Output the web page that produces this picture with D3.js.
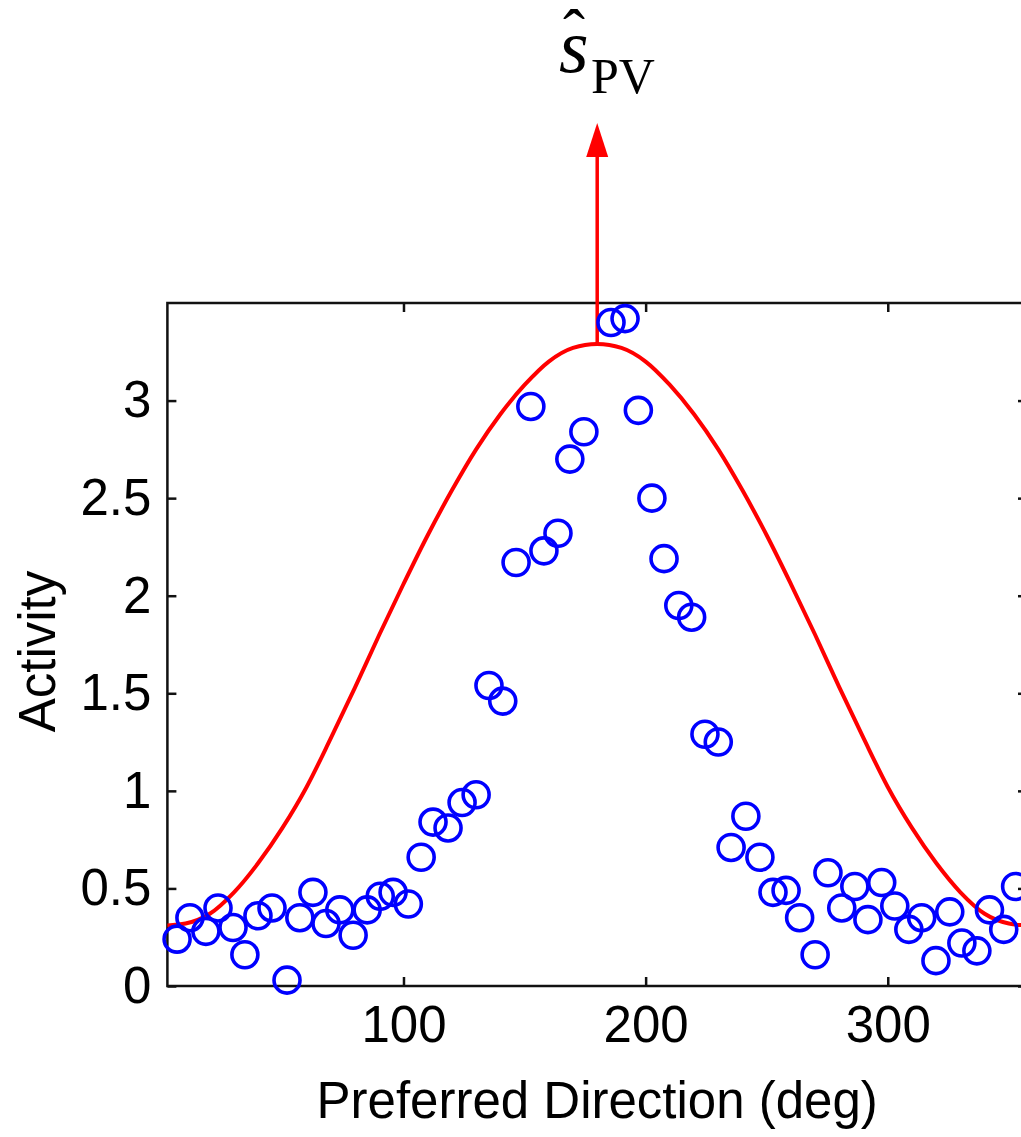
<!DOCTYPE html>
<html>
<head>
<meta charset="utf-8">
<script src="https://cdn.jsdelivr.net/npm/d3@7"></script>
<style>
  body { margin: 0; background: #fff; }
  svg text { fill: #000; }
</style>
</head>
<body>
<svg id="chart" width="1021" height="1137"></svg>
<script>
/* population vector read-out: neuron activity vs preferred direction */

// neurons: preferred direction (deg) and measured activity
const prefDirections = [6.5, 11.8, 18.4, 23.4, 29.6, 34.5, 39.9, 45.7, 51.9, 57.2,
    62.6, 68, 73.7, 79.2, 85, 90.4, 95.7, 102, 107.3, 112.2,
    118.4, 124.2, 130, 135.3, 141, 146.5, 152.6, 158, 163.8, 168.7,
    174.5, 185.7, 191.5, 197, 202.6, 207.6, 213.7, 219, 224.5, 230,
    235.3, 241.4, 247.2, 252.6, 258, 263.6, 270, 275.3, 281, 286.4,
    291.8, 297.5, 302.9, 308.7, 314, 319.9, 325.6, 330.6, 336.8, 342,
    347.9, 352.8];
const activity = [0.24, 0.35, 0.28, 0.40, 0.30, 0.16, 0.36, 0.40, 0.03, 0.35,
    0.48, 0.32, 0.39, 0.26, 0.39, 0.46, 0.48, 0.42, 0.66, 0.84,
    0.81, 0.94, 0.98, 1.54, 1.46, 2.17, 2.97, 2.23, 2.32, 2.70,
    2.84, 3.40, 3.42, 2.95, 2.50, 2.19, 1.95, 1.89, 1.29, 1.25,
    0.71, 0.87, 0.66, 0.48, 0.49, 0.35, 0.16, 0.58, 0.40, 0.51,
    0.34, 0.53, 0.41, 0.29, 0.35, 0.13, 0.38, 0.22, 0.18, 0.39,
    0.29, 0.51];

// fitted tuning curve (red)
const curveDirections = [2.5, 10, 20, 30, 40, 50, 60, 70, 80, 90,
    100, 110, 120, 130, 140, 150, 160, 170, 180, 190,
    200, 210, 220, 230, 240, 250, 260, 270, 280, 290,
    300, 310, 320, 330, 340, 350, 357.5];
const curveActivity = [0.31, 0.32, 0.37, 0.48, 0.63, 0.81, 1.02, 1.27, 1.53, 1.80,
    2.06, 2.31, 2.54, 2.75, 2.93, 3.08, 3.20, 3.27, 3.29, 3.27,
    3.20, 3.08, 2.93, 2.75, 2.54, 2.31, 2.06, 1.80, 1.53, 1.27,
    1.02, 0.81, 0.63, 0.48, 0.37, 0.32, 0.31];

// population vector estimate
const estimate = 180;
const estimateLevel = 3.29;

const xTicks = [100, 200, 300];
const yTicks = [0, 0.5, 1, 1.5, 2, 2.5, 3];

// general variables
const svg = d3.select("svg#chart");
const plot = { left: 167.4, right: 1027, top: 303, bottom: 986 };
const sans = "'Liberation Sans', Arial, sans-serif";
const serif = "'Liberation Serif', 'Times New Roman', serif";

const x = d3.scaleLinear().domain([2.5, 357.5]).range([plot.left, plot.right]);
const y = d3.scaleLinear().domain([0, 3.5]).range([plot.bottom, plot.top]);

// axes, ticks pointing inwards
const styleAxis = (g) => {
    g.select(".domain").remove();
    g.selectAll(".tick line").attr("stroke", "#111").attr("stroke-width", 2.5);
    g.selectAll(".tick text")
        .style("font-family", sans)
        .style("font-size", "51px")
        .style("fill", "#000");
};

svg.append("g")
    .attr("transform", `translate(0,${plot.bottom})`)
    .call(d3.axisBottom(x).tickValues(xTicks).tickSize(-9).tickPadding(20).tickFormat(d3.format("d")))
    .call(styleAxis);

svg.append("g")
    .attr("transform", `translate(0,${plot.top})`)
    .call(d3.axisTop(x).tickValues(xTicks).tickSize(-9).tickFormat(""))
    .call(styleAxis);

svg.append("g")
    .attr("transform", `translate(${plot.left},0)`)
    .call(d3.axisLeft(y).tickValues(yTicks).tickSize(-9).tickPadding(16).tickFormat(d => d))
    .call(styleAxis);

svg.append("g")
    .attr("transform", `translate(${plot.right},0)`)
    .call(d3.axisRight(y).tickValues(yTicks).tickSize(-9).tickFormat(""))
    .call(styleAxis);

// box
svg.append("rect")
    .attr("x", plot.left)
    .attr("y", plot.top)
    .attr("width", plot.right - plot.left)
    .attr("height", plot.bottom - plot.top)
    .attr("fill", "none")
    .attr("stroke", "#111")
    .attr("stroke-width", 2.5);

// axis labels
svg.append("text")
    .attr("x", (plot.left + plot.right) / 2)
    .attr("y", 1118)
    .attr("text-anchor", "middle")
    .style("font-family", sans)
    .style("font-size", "51px")
    .text("Preferred Direction (deg)");

svg.append("text")
    .attr("transform", `translate(55,${(plot.top + plot.bottom) / 2 + 7}) rotate(-90)`)
    .attr("text-anchor", "middle")
    .style("font-family", sans)
    .style("font-size", "51px")
    .text("Activity");

// tuning curve
const line = d3.line()
    .x((d, i) => x(curveDirections[i]))
    .y(d => y(d))
    .curve(d3.curveMonotoneX);

svg.append("path")
    .datum(curveActivity)
    .attr("d", line)
    .attr("fill", "none")
    .attr("stroke", "#ff0000")
    .attr("stroke-width", 4);

// arrow marking the population vector estimate
const ax = x(estimate);
svg.append("line")
    .attr("x1", ax).attr("x2", ax)
    .attr("y1", y(estimateLevel)).attr("y2", 150)
    .attr("stroke", "#ff0000")
    .attr("stroke-width", 3.5);

svg.append("path")
    .attr("d", `M${ax},123 L${ax - 11},157 L${ax + 11},157 Z`)
    .attr("fill", "#ff0000");

// neurons
svg.append("g").selectAll("circle")
    .data(activity)
    .join("circle")
    .attr("cx", (d, i) => x(prefDirections[i]))
    .attr("cy", d => y(d))
    .attr("r", 13)
    .attr("fill", "none")
    .attr("stroke", "#0000ff")
    .attr("stroke-width", 3.6);

// estimate label: s-hat with subscript PV
const label = svg.append("g").style("font-family", serif);
label.append("text")
    .attr("x", 559)
    .attr("y", 72)
    .style("font-style", "italic")
    .style("font-size", "76px")
    .text("s");
label.append("text")
    .attr("x", 563)
    .attr("y", 55)
    .style("font-size", "66px")
    .text("ˆ");
label.append("text")
    .attr("x", 591)
    .attr("y", 93)
    .style("font-size", "50px")
    .text("PV");
</script>
</body>
</html>
